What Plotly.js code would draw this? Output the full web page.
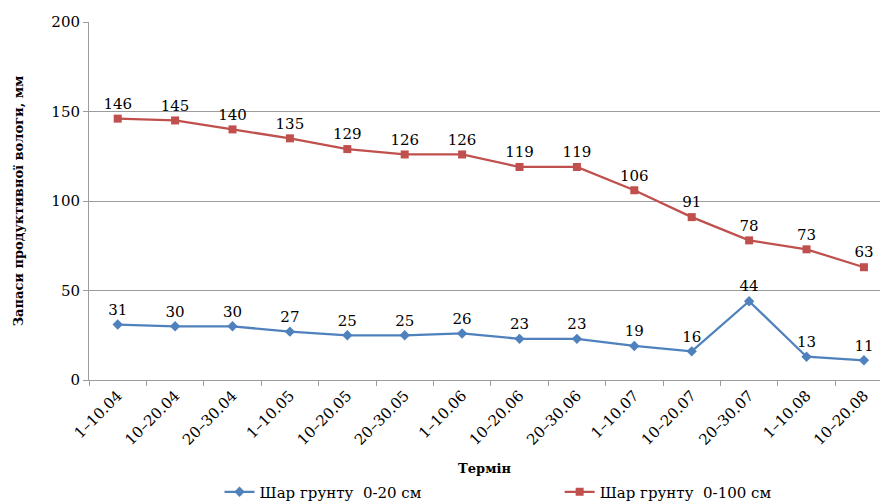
<!DOCTYPE html>
<html>
<head>
<meta charset="utf-8">
<script src="https://cdn.plot.ly/plotly-3.0.1.min.js"></script>
<style>
  html, body { margin: 0; padding: 0; background: #fff; overflow: hidden; }
  #chart { width: 880px; height: 502px; }
</style>
</head>
<body>
<div id="chart"></div>
<script>
// Soil moisture reserves by period
const periods = ['1–10.04', '10–20.04', '20–30.04', '1–10.05', '10–20.05', '20–30.05',
                 '1–10.06', '10–20.06', '20–30.06', '1–10.07', '10–20.07', '20–30.07',
                 '1–10.08', '10–20.08'];
const layer0_20 = [31, 30, 30, 27, 25, 25, 26, 23, 23, 19, 16, 44, 13, 11];
const layer0_100 = [146, 145, 140, 135, 129, 126, 126, 119, 119, 106, 91, 78, 73, 63];
const yTicks = [0, 50, 100, 150, 200];

const serif = 'DejaVu Serif';
const axisGray = '#9c9c9c';

const traces = [
  {
    x: periods, y: layer0_20, type: 'scatter', mode: 'lines+markers+text',
    name: 'Шар грунту  0-20 см', legend: 'legend',
    line: { color: '#4F81BD', width: 2.25 },
    marker: { symbol: 'diamond', size: 8, color: '#4F81BD' },
    text: layer0_20.map(String), textposition: 'top center',
    textfont: { family: serif, size: 15, color: '#000' },
    cliponaxis: false
  },
  {
    x: periods, y: layer0_100, type: 'scatter', mode: 'lines+markers+text',
    name: 'Шар грунту  0-100 см', legend: 'legend2',
    line: { color: '#C0504D', width: 2.25 },
    marker: { symbol: 'square', size: 8, color: '#C0504D' },
    text: layer0_100.map(String), textposition: 'top center',
    textfont: { family: serif, size: 15, color: '#000' },
    cliponaxis: false
  }
];

const legendStyle = {
  orientation: 'h', xanchor: 'left', y: -0.313, yanchor: 'middle',
  font: { family: serif, size: 15, color: '#000' }, itemwidth: 30
};

const layout = {
  width: 880, height: 502,
  margin: { l: 89, r: 0, t: 22, b: 122, autoexpand: false },
  paper_bgcolor: '#fff', plot_bgcolor: '#fff',
  font: { family: serif, size: 15, color: '#000' },
  showlegend: true,
  legend: Object.assign({ x: 0.165 }, legendStyle),
  legend2: Object.assign({ x: 0.595 }, legendStyle),
  xaxis: {
    type: 'category', range: [-0.5, 13.28], automargin: false,
    tickangle: -45, tickson: 'boundaries', ticks: 'outside', ticklen: 5,
    tickcolor: axisGray, showline: true, linecolor: axisGray, linewidth: 1,
    showgrid: false, zeroline: false,
    tickfont: { family: serif, size: 15, color: '#000' },
    title: { text: '<b>Термін</b>', font: { family: serif, size: 13, color: '#000' }, standoff: 16 }
  },
  yaxis: {
    range: [0, 200], tickvals: yTicks, ticks: 'outside', ticklen: 5, automargin: false,
    tickcolor: axisGray, showline: true, linecolor: axisGray, linewidth: 1,
    showgrid: true, gridcolor: axisGray, gridwidth: 1, zeroline: false,
    tickfont: { family: serif, size: 15, color: '#000' },
    title: { text: '<b>Запаси продуктивної вологи, мм</b>', font: { family: serif, size: 13, color: '#000' }, standoff: 24 }
  }
};

Plotly.newPlot('chart', traces, layout, { displayModeBar: false, staticPlot: true });
</script>
</body>
</html>
